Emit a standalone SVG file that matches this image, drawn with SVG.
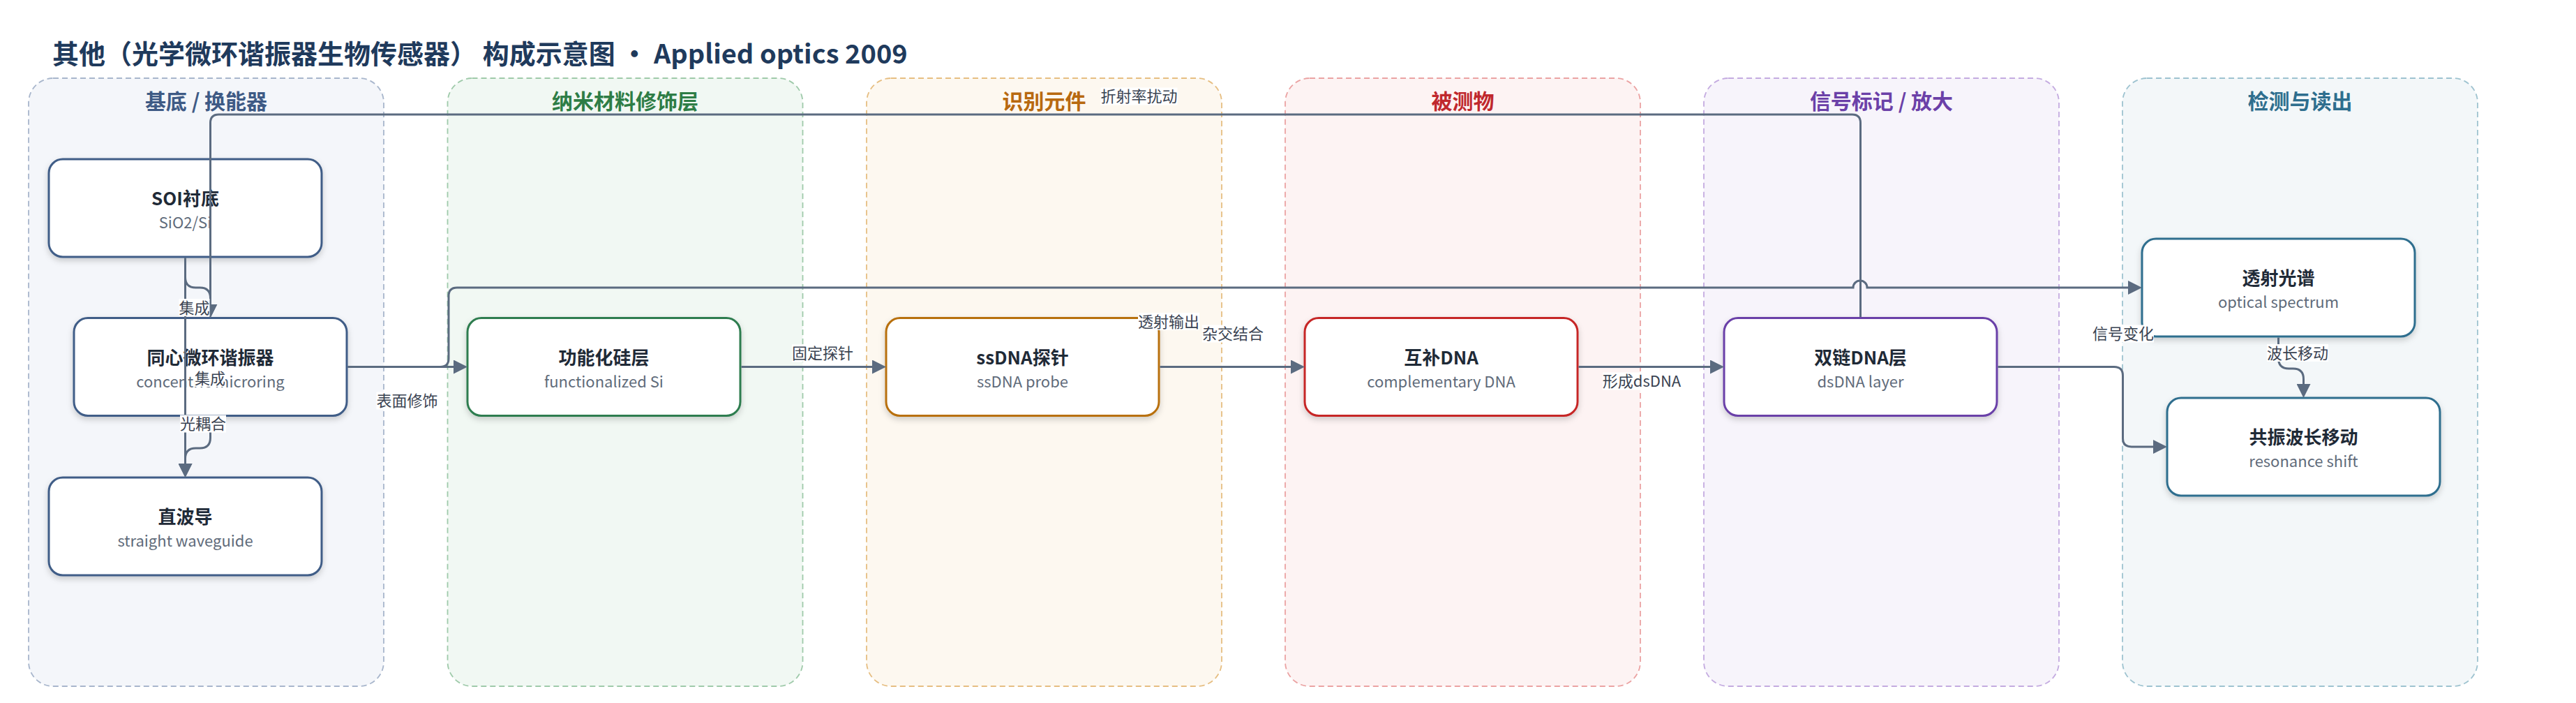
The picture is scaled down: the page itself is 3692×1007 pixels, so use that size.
<svg xmlns="http://www.w3.org/2000/svg" width="3692" height="1007" viewBox="0 0 3692 1007">
<defs>
<style>
text{font-family:"Noto Sans CJK SC","Noto Sans",sans-serif}
.title{font-size:38px;font-weight:700;fill:#1f3a5c}
.gh{font-size:30px;font-weight:700;text-anchor:middle}
.grp{stroke-width:1.8;stroke-dasharray:8 5}
.node{fill:#fff;stroke-width:3;filter:url(#sh)}
.nt{font-size:26px;font-weight:700;fill:#1f2a37;text-anchor:middle}
.ns{font-size:22px;fill:#5f6b7a;text-anchor:middle}
.e{fill:none;stroke:#5b6b80;stroke-width:3}
.ea{fill:none;stroke:#5b6b80;stroke-width:3;marker-end:url(#arr)}
.lb{fill:#fff}
.lt{font-size:22px;fill:#3a4352;text-anchor:middle}
</style>
<filter id="sh" x="-10%" y="-10%" width="120%" height="130%">
<feDropShadow dx="0" dy="4" stdDeviation="4" flood-color="#000" flood-opacity="0.18"/>
</filter>
<marker id="arr" markerUnits="userSpaceOnUse" markerWidth="20" markerHeight="20" refX="16" refY="10" orient="auto">
<path d="M0,0 L20,10 L0,20 z" fill="#5b6b80"/>
</marker>
</defs>
<rect width="3692" height="1007" fill="#fff"/>
<text class="title" x="75" y="91" xml:space="preserve">其他（光学微环谐振器生物传感器） 构成示意图 · Applied optics 2009</text>

<g id="group-substrate">
<rect class="grp" x="41" y="112" width="509" height="871" rx="35" fill="#f4f6fa" stroke="#a8b6cc"/>
<text class="gh" x="295.5" y="156" fill="#3e5a85">基底 / 换能器</text>
</g>
<g id="group-nano">
<rect class="grp" x="641.5" y="112" width="509" height="871" rx="35" fill="#f1f8f3" stroke="#9fcaaa"/>
<text class="gh" x="896" y="156" fill="#2e7d46">纳米材料修饰层</text>
</g>
<g id="group-recog">
<rect class="grp" x="1242" y="112" width="509" height="871" rx="35" fill="#fdf8f0" stroke="#e6be82"/>
<text class="gh" x="1496.5" y="156" fill="#b8690f">识别元件</text>
</g>
<g id="group-analyte">
<rect class="grp" x="1842" y="112" width="509" height="871" rx="35" fill="#fdf3f3" stroke="#eba3a3"/>
<text class="gh" x="2096.5" y="156" fill="#c0282d">被测物</text>
</g>
<g id="group-signal">
<rect class="grp" x="2442" y="112" width="509" height="871" rx="35" fill="#f7f4fb" stroke="#c4abe0"/>
<text class="gh" x="2696.5" y="156" fill="#6b40a8">信号标记 / 放大</text>
</g>
<g id="group-readout">
<rect class="grp" x="3042" y="112" width="509" height="871" rx="35" fill="#f3f7f9" stroke="#9ec3d0"/>
<text class="gh" x="3296.5" y="156" fill="#2e6e8e">检测与读出</text>
</g>

<g id="node-soi">
<rect class="node" x="70" y="228" width="391" height="140" rx="20" stroke="#3f5d87"/>
<text class="nt" x="265.5" y="294">SOI衬底</text>
<text class="ns" x="265.5" y="327">SiO2/Si</text>
</g>
<g id="node-ring">
<rect class="node" x="106" y="455.5" width="391" height="140" rx="20" stroke="#3f5d87"/>
<text class="nt" x="301.5" y="521.5">同心微环谐振器</text>
<text class="ns" x="301.5" y="554.5">concentric microring</text>
</g>
<g id="node-wg">
<rect class="node" x="70" y="684" width="391" height="140" rx="20" stroke="#3f5d87"/>
<text class="nt" x="265.5" y="750">直波导</text>
<text class="ns" x="265.5" y="783">straight waveguide</text>
</g>
<g id="node-fsi">
<rect class="node" x="670" y="455.5" width="391" height="140" rx="20" stroke="#2e7d4f"/>
<text class="nt" x="865.5" y="521.5">功能化硅层</text>
<text class="ns" x="865.5" y="554.5">functionalized Si</text>
</g>
<g id="node-probe">
<rect class="node" x="1270" y="455.5" width="391" height="140" rx="20" stroke="#b8700f"/>
<text class="nt" x="1465.5" y="521.5">ssDNA探针</text>
<text class="ns" x="1465.5" y="554.5">ssDNA probe</text>
</g>
<g id="node-cdna">
<rect class="node" x="1870" y="455.5" width="391" height="140" rx="20" stroke="#c62828"/>
<text class="nt" x="2065.5" y="521.5">互补DNA</text>
<text class="ns" x="2065.5" y="554.5">complementary DNA</text>
</g>
<g id="node-ds">
<rect class="node" x="2471" y="455.5" width="391" height="140" rx="20" stroke="#6a40a8"/>
<text class="nt" x="2666.5" y="521.5">双链DNA层</text>
<text class="ns" x="2666.5" y="554.5">dsDNA layer</text>
</g>
<g id="node-spec">
<rect class="node" x="3070" y="342" width="391" height="140" rx="20" stroke="#2e6e8e"/>
<text class="nt" x="3265.5" y="408">透射光谱</text>
<text class="ns" x="3265.5" y="441">optical spectrum</text>
</g>
<g id="node-shift">
<rect class="node" x="3106" y="570" width="391" height="140" rx="20" stroke="#2e6e8e"/>
<text class="nt" x="3301.5" y="636">共振波长移动</text>
<text class="ns" x="3301.5" y="669">resonance shift</text>
</g>

<g id="connectors">
<path class="ea" d="M265.5,369.5 V397 Q265.5,412 280.5,412 H286.5 Q301.5,412 301.5,427 V451.5"/>
<path class="ea" d="M265.5,369.5 V680"/>
<path class="ea" d="M301.5,597 V627 Q301.5,642 286.5,642 H280.5 Q265.5,642 265.5,657 V680"/>
<path class="ea" d="M498.5,525.5 H666"/>
<path class="ea" d="M498.5,525.5 H631 Q643,525.5 643,513.5 V424 Q643,412 655,412 H2656 A10,10 0 0 1 2676,412 H3066"/>
<path class="ea" d="M1062.5,525.5 H1266"/>
<path class="ea" d="M1662.5,525.5 H1866"/>
<path class="ea" d="M2262.5,525.5 H2467"/>
<path class="ea" d="M2666.5,454 V176 Q2666.5,164 2654.5,164 H313.5 Q301.5,164 301.5,176 V451.5"/>
<path class="ea" d="M2863.5,525.5 H3030 Q3042.5,525.5 3042.5,538 V628 Q3042.5,640 3055,640 H3102"/>
<path class="ea" d="M3265.5,483.5 V513 Q3265.5,528 3280.5,528 H3286.5 Q3301.5,528 3301.5,543 V566"/>

<rect class="lb" x="256.5" y="428" width="44" height="25"/>
<text class="lt" x="278.5" y="448.5">集成</text>
<rect class="lb" x="279" y="529" width="44" height="25"/>
<text class="lt" x="301" y="549.5">集成</text>
<rect class="lb" x="258" y="594.5" width="66" height="25"/>
<text class="lt" x="291" y="615">光耦合</text>
<rect class="lb" x="539.5" y="561.5" width="88" height="25"/>
<text class="lt" x="583.5" y="582">表面修饰</text>
<rect class="lb" x="1135" y="493.5" width="88" height="25"/>
<text class="lt" x="1179" y="514">固定探针</text>
<rect class="lb" x="1577.5" y="125.5" width="110" height="25"/>
<text class="lt" x="1632.5" y="146">折射率扰动</text>
<rect class="lb" x="1631" y="448" width="88" height="25"/>
<text class="lt" x="1675" y="468.5">透射输出</text>
<rect class="lb" x="1723" y="465.5" width="88" height="25"/>
<text class="lt" x="1767" y="486">杂交结合</text>
<rect class="lb" x="2297" y="533.5" width="112" height="25"/>
<text class="lt" x="2353" y="554">形成dsDNA</text>
<rect class="lb" x="2999" y="465.5" width="88" height="25"/>
<text class="lt" x="3043" y="486">信号变化</text>
<rect class="lb" x="3249" y="493" width="88" height="25"/>
<text class="lt" x="3293" y="513.5">波长移动</text>
</g>
</svg>
